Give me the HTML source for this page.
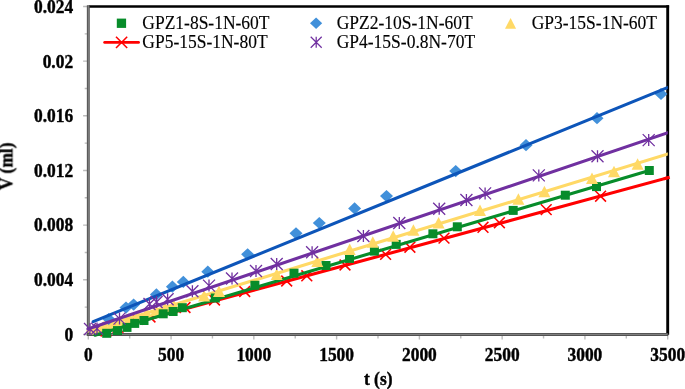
<!DOCTYPE html>
<html><head><meta charset="utf-8"><title>chart</title>
<style>
html,body{margin:0;padding:0;background:#fff;}
body{width:685px;height:389px;overflow:hidden;}
svg{display:block;}
text{font-family:"Liberation Serif",serif;fill:#000;}
.b{font-weight:bold;font-size:17.4px;stroke:#000;stroke-width:0.4px;}
.l{font-size:17.5px;stroke:#000;stroke-width:0.15px;}
</style></head><body>
<svg width="685" height="389" viewBox="0 0 685 389">
<rect width="685" height="389" fill="#fff"/>
<path d="M83.1 334.45H88.3M84.7 307.12H88.3M83.1 279.79H88.3M84.7 252.46H88.3M83.1 225.13H88.3M84.7 197.80H88.3M83.1 170.47H88.3M84.7 143.15H88.3M83.1 115.82H88.3M84.7 88.49H88.3M83.1 61.16H88.3M84.7 33.83H88.3M83.1 6.50H88.3M88.30 334.45V339.6M129.69 334.45V338.4M171.07 334.45V339.6M212.46 334.45V338.4M253.84 334.45V339.6M295.23 334.45V338.4M336.61 334.45V339.6M378.00 334.45V338.4M419.39 334.45V339.6M460.77 334.45V338.4M502.16 334.45V339.6M543.54 334.45V338.4M584.93 334.45V339.6M626.31 334.45V338.4M667.70 334.45V339.6" stroke="#bcbcbc" stroke-width="1.4" fill="none"/>
<path d="M88.89999999999999 6.5H669.1" stroke="#000" stroke-width="2.7" fill="none"/>
<path d="M667.7 5.2V334.84999999999997" stroke="#000" stroke-width="2.9" fill="none"/>
<path d="M88.3 5.2V335.95" stroke="#525252" stroke-width="2.9" fill="none"/>
<path d="M88.3 5.7V334.45" stroke="#909090" stroke-width="0.8" fill="none"/>
<path d="M86.89999999999999 334.45H668.2" stroke="#525252" stroke-width="3.0" fill="none"/>
<path d="M88.3 334.45H667.2" stroke="#909090" stroke-width="0.8" fill="none"/>
<defs><clipPath id="pc"><rect x="80" y="0" width="587.8" height="345"/></clipPath></defs>
<g clip-path="url(#pc)">
<line x1="104" y1="330.9" x2="668" y2="177.73" stroke="#FF0000" stroke-width="3.1" stroke-linecap="round"/>
<path d="M100.6 325.6L111.4 336.4M100.6 336.4L111.4 325.6" stroke="#FF0000" stroke-width="1.55" fill="none"/>
<path d="M112.6 321.9L123.4 332.7M112.6 332.7L123.4 321.9" stroke="#FF0000" stroke-width="1.55" fill="none"/>
<path d="M125.6 315.4L136.4 326.2M125.6 326.2L136.4 315.4" stroke="#FF0000" stroke-width="1.55" fill="none"/>
<path d="M132.1 314.0L142.9 324.8M132.1 324.8L142.9 314.0" stroke="#FF0000" stroke-width="1.55" fill="none"/>
<path d="M144.6 311.6L155.4 322.4M144.6 322.4L155.4 311.6" stroke="#FF0000" stroke-width="1.55" fill="none"/>
<path d="M179.6 302.1L190.4 312.9M179.6 312.9L190.4 302.1" stroke="#FF0000" stroke-width="1.55" fill="none"/>
<path d="M209.1 294.6L219.9 305.4M209.1 305.4L219.9 294.6" stroke="#FF0000" stroke-width="1.55" fill="none"/>
<path d="M239.3 286.1L250.1 296.9M239.3 296.9L250.1 286.1" stroke="#FF0000" stroke-width="1.55" fill="none"/>
<path d="M281.3 275.6L292.1 286.4M281.3 286.4L292.1 275.6" stroke="#FF0000" stroke-width="1.55" fill="none"/>
<path d="M301.4 270.4L312.2 281.2M301.4 281.2L312.2 270.4" stroke="#FF0000" stroke-width="1.55" fill="none"/>
<path d="M339.6 259.6L350.4 270.4M339.6 270.4L350.4 259.6" stroke="#FF0000" stroke-width="1.55" fill="none"/>
<path d="M380.2 249.0L391.0 259.8M380.2 259.8L391.0 249.0" stroke="#FF0000" stroke-width="1.55" fill="none"/>
<path d="M404.5 241.8L415.3 252.6M404.5 252.6L415.3 241.8" stroke="#FF0000" stroke-width="1.55" fill="none"/>
<path d="M438.6 232.7L449.4 243.5M438.6 243.5L449.4 232.7" stroke="#FF0000" stroke-width="1.55" fill="none"/>
<path d="M477.6 221.9L488.4 232.7M477.6 232.7L488.4 221.9" stroke="#FF0000" stroke-width="1.55" fill="none"/>
<path d="M494.0 217.3L504.8 228.1M494.0 228.1L504.8 217.3" stroke="#FF0000" stroke-width="1.55" fill="none"/>
<path d="M540.8 204.2L551.6 215.0M540.8 215.0L551.6 204.2" stroke="#FF0000" stroke-width="1.55" fill="none"/>
<path d="M595.2 190.8L606.0 201.6M595.2 201.6L606.0 190.8" stroke="#FF0000" stroke-width="1.55" fill="none"/>
<line x1="88" y1="331.0" x2="668" y2="153.9" stroke="#FFD966" stroke-width="3.1" stroke-linecap="round"/>
<path d="M96.0 323.1L102.0 334.6L90.0 334.6Z" fill="#FFD966"/>
<path d="M104.0 320.6L110.0 332.1L98.0 332.1Z" fill="#FFD966"/>
<path d="M112.0 318.1L118.0 329.6L106.0 329.6Z" fill="#FFD966"/>
<path d="M120.0 315.7L126.0 327.2L114.0 327.2Z" fill="#FFD966"/>
<path d="M129.0 312.9L135.0 324.4L123.0 324.4Z" fill="#FFD966"/>
<path d="M138.0 310.2L144.0 321.7L132.0 321.7Z" fill="#FFD966"/>
<path d="M147.0 307.4L153.0 318.9L141.0 318.9Z" fill="#FFD966"/>
<path d="M156.0 304.6L162.0 316.1L150.0 316.1Z" fill="#FFD966"/>
<path d="M165.0 301.9L171.0 313.4L159.0 313.4Z" fill="#FFD966"/>
<path d="M173.8 299.4L179.8 310.9L167.8 310.9Z" fill="#FFD966"/>
<line x1="95.0" y1="335.2" x2="649.3" y2="170.5" stroke="#078C2A" stroke-width="3.1" stroke-linecap="round"/>
<rect x="102.2" y="328.8" width="9.0" height="9.0" fill="#078C2A"/>
<rect x="113.0" y="326.1" width="9.0" height="9.0" fill="#078C2A"/>
<rect x="122.5" y="322.9" width="9.0" height="9.0" fill="#078C2A"/>
<rect x="130.2" y="318.9" width="9.0" height="9.0" fill="#078C2A"/>
<rect x="139.5" y="316.0" width="9.0" height="9.0" fill="#078C2A"/>
<rect x="158.7" y="309.3" width="9.0" height="9.0" fill="#078C2A"/>
<rect x="168.6" y="307.0" width="9.0" height="9.0" fill="#078C2A"/>
<rect x="177.8" y="303.2" width="9.0" height="9.0" fill="#078C2A"/>
<rect x="210.8" y="293.5" width="9.0" height="9.0" fill="#078C2A"/>
<rect x="250.4" y="280.8" width="9.0" height="9.0" fill="#078C2A"/>
<rect x="289.5" y="268.7" width="9.0" height="9.0" fill="#078C2A"/>
<rect x="321.5" y="261.0" width="9.0" height="9.0" fill="#078C2A"/>
<rect x="345.0" y="253.9" width="9.0" height="9.0" fill="#078C2A"/>
<rect x="369.9" y="246.6" width="9.0" height="9.0" fill="#078C2A"/>
<rect x="391.7" y="239.9" width="9.0" height="9.0" fill="#078C2A"/>
<rect x="428.4" y="229.3" width="9.0" height="9.0" fill="#078C2A"/>
<rect x="452.8" y="222.3" width="9.0" height="9.0" fill="#078C2A"/>
<rect x="508.7" y="205.9" width="9.0" height="9.0" fill="#078C2A"/>
<rect x="560.8" y="190.7" width="9.0" height="9.0" fill="#078C2A"/>
<rect x="592.0" y="182.1" width="9.0" height="9.0" fill="#078C2A"/>
<rect x="644.8" y="166.0" width="9.0" height="9.0" fill="#078C2A"/>
<path d="M204.1 290.1L210.1 301.6L198.1 301.6Z" fill="#FFD966"/>
<path d="M219.0 285.4L225.0 296.9L213.0 296.9Z" fill="#FFD966"/>
<path d="M276.7 268.4L282.7 279.9L270.7 279.9Z" fill="#FFD966"/>
<path d="M317.3 255.6L323.3 267.1L311.3 267.1Z" fill="#FFD966"/>
<path d="M349.7 243.5L355.7 255.0L343.7 255.0Z" fill="#FFD966"/>
<path d="M372.8 236.3L378.8 247.8L366.8 247.8Z" fill="#FFD966"/>
<path d="M393.2 230.3L399.2 241.8L387.2 241.8Z" fill="#FFD966"/>
<path d="M413.4 224.2L419.4 235.7L407.4 235.7Z" fill="#FFD966"/>
<path d="M438.6 217.0L444.6 228.5L432.6 228.5Z" fill="#FFD966"/>
<path d="M480.0 204.6L486.0 216.1L474.0 216.1Z" fill="#FFD966"/>
<path d="M518.4 193.3L524.4 204.8L512.4 204.8Z" fill="#FFD966"/>
<path d="M544.4 185.8L550.4 197.3L538.4 197.3Z" fill="#FFD966"/>
<path d="M592.0 172.5L598.0 184.0L586.0 184.0Z" fill="#FFD966"/>
<path d="M614.0 165.7L620.0 177.2L608.0 177.2Z" fill="#FFD966"/>
<path d="M637.6 158.2L643.6 169.7L631.6 169.7Z" fill="#FFD966"/>
<path d="M102.2 319.0L108.7 312.9L115.2 319.0L108.7 325.1Z" fill="#4190DA"/>
<path d="M119.5 307.6L126.0 301.5L132.5 307.6L126.0 313.7Z" fill="#4190DA"/>
<path d="M127.1 304.6L133.6 298.5L140.1 304.6L133.6 310.7Z" fill="#4190DA"/>
<path d="M149.9 294.4L156.4 288.3L162.9 294.4L156.4 300.5Z" fill="#4190DA"/>
<path d="M165.9 286.7L172.4 280.6L178.9 286.7L172.4 292.8Z" fill="#4190DA"/>
<path d="M176.8 281.9L183.3 275.8L189.8 281.9L183.3 288.0Z" fill="#4190DA"/>
<path d="M201.3 271.7L207.8 265.6L214.3 271.7L207.8 277.8Z" fill="#4190DA"/>
<path d="M241.1 254.3L247.6 248.2L254.1 254.3L247.6 260.4Z" fill="#4190DA"/>
<path d="M289.5 233.3L296.0 227.2L302.5 233.3L296.0 239.4Z" fill="#4190DA"/>
<path d="M312.8 223.0L319.3 216.9L325.8 223.0L319.3 229.1Z" fill="#4190DA"/>
<path d="M348.1 208.4L354.6 202.3L361.1 208.4L354.6 214.5Z" fill="#4190DA"/>
<path d="M380.0 196.1L386.5 190.0L393.0 196.1L386.5 202.2Z" fill="#4190DA"/>
<path d="M449.2 171.1L455.7 165.0L462.2 171.1L455.7 177.2Z" fill="#4190DA"/>
<path d="M519.5 145.2L526.0 139.1L532.5 145.2L526.0 151.3Z" fill="#4190DA"/>
<path d="M590.5 118.2L597.0 112.1L603.5 118.2L597.0 124.3Z" fill="#4190DA"/>
<path d="M654.5 94.0L661.0 87.9L667.5 94.0L661.0 100.1Z" fill="#4190DA"/>
<line x1="93.2" y1="321.6" x2="668" y2="87.4" stroke="#0D55B9" stroke-width="3.1" stroke-linecap="round"/>
<line x1="88" y1="329.0" x2="668" y2="132.7" stroke="#7030A0" stroke-width="3.1" stroke-linecap="round"/>
<path d="M84.0 323.0L96.0 335.0M84.0 335.0L96.0 323.0M90.0 323.0L90.0 335.0" stroke="#7030A0" stroke-width="1.3" fill="none"/>
<path d="M91.0 322.6L103.0 334.6M91.0 334.6L103.0 322.6M97.0 322.6L97.0 334.6" stroke="#7030A0" stroke-width="1.3" fill="none"/>
<path d="M113.5 312.6L125.5 324.6M113.5 324.6L125.5 312.6M119.5 312.6L119.5 324.6" stroke="#7030A0" stroke-width="1.3" fill="none"/>
<path d="M143.5 298.0L155.5 310.0M143.5 310.0L155.5 298.0M149.5 298.0L149.5 310.0" stroke="#7030A0" stroke-width="1.3" fill="none"/>
<path d="M150.6 296.0L162.6 308.0M150.6 308.0L162.6 296.0M156.6 296.0L156.6 308.0" stroke="#7030A0" stroke-width="1.3" fill="none"/>
<path d="M161.6 293.2L173.6 305.2M161.6 305.2L173.6 293.2M167.6 293.2L167.6 305.2" stroke="#7030A0" stroke-width="1.3" fill="none"/>
<path d="M186.4 285.2L198.4 297.2M186.4 297.2L198.4 285.2M192.4 285.2L192.4 297.2" stroke="#7030A0" stroke-width="1.3" fill="none"/>
<path d="M203.0 279.6L215.0 291.6M203.0 291.6L215.0 279.6M209.0 279.6L209.0 291.6" stroke="#7030A0" stroke-width="1.3" fill="none"/>
<path d="M226.0 272.5L238.0 284.5M226.0 284.5L238.0 272.5M232.0 272.5L232.0 284.5" stroke="#7030A0" stroke-width="1.3" fill="none"/>
<path d="M250.0 265.0L262.0 277.0M250.0 277.0L262.0 265.0M256.0 265.0L256.0 277.0" stroke="#7030A0" stroke-width="1.3" fill="none"/>
<path d="M270.7 258.0L282.7 270.0M270.7 270.0L282.7 258.0M276.7 258.0L276.7 270.0" stroke="#7030A0" stroke-width="1.3" fill="none"/>
<path d="M306.1 246.2L318.1 258.2M306.1 258.2L318.1 246.2M312.1 246.2L312.1 258.2" stroke="#7030A0" stroke-width="1.3" fill="none"/>
<path d="M357.4 230.0L369.4 242.0M357.4 242.0L369.4 230.0M363.4 230.0L363.4 242.0" stroke="#7030A0" stroke-width="1.3" fill="none"/>
<path d="M393.3 217.0L405.3 229.0M393.3 229.0L405.3 217.0M399.3 217.0L399.3 229.0" stroke="#7030A0" stroke-width="1.3" fill="none"/>
<path d="M433.2 202.8L445.2 214.8M433.2 214.8L445.2 202.8M439.2 202.8L439.2 214.8" stroke="#7030A0" stroke-width="1.3" fill="none"/>
<path d="M460.4 194.0L472.4 206.0M460.4 206.0L472.4 194.0M466.4 194.0L466.4 206.0" stroke="#7030A0" stroke-width="1.3" fill="none"/>
<path d="M479.1 187.4L491.1 199.4M479.1 199.4L491.1 187.4M485.1 187.4L485.1 199.4" stroke="#7030A0" stroke-width="1.3" fill="none"/>
<path d="M532.8 169.4L544.8 181.4M532.8 181.4L544.8 169.4M538.8 169.4L538.8 181.4" stroke="#7030A0" stroke-width="1.3" fill="none"/>
<path d="M591.5 150.3L603.5 162.3M591.5 162.3L603.5 150.3M597.5 150.3L597.5 162.3" stroke="#7030A0" stroke-width="1.3" fill="none"/>
<path d="M642.7 134.1L654.7 146.1M642.7 146.1L654.7 134.1M648.7 134.1L648.7 146.1" stroke="#7030A0" stroke-width="1.3" fill="none"/>
</g>
<path d="M664 178.82L669.7 177.27" stroke="#FF0000" stroke-width="3.1" fill="none"/>
<g style="opacity:0.999">
<text class="b" transform="translate(73.1 340.8) scale(1 1.06)" text-anchor="end">0</text>
<text class="b" transform="translate(73.1 286.1) scale(1 1.06)" text-anchor="end">0.004</text>
<text class="b" transform="translate(73.1 231.4) scale(1 1.06)" text-anchor="end">0.008</text>
<text class="b" transform="translate(73.1 176.8) scale(1 1.06)" text-anchor="end">0.012</text>
<text class="b" transform="translate(73.1 122.1) scale(1 1.06)" text-anchor="end">0.016</text>
<text class="b" transform="translate(73.1 67.5) scale(1 1.06)" text-anchor="end">0.02</text>
<text class="b" transform="translate(73.1 12.8) scale(1 1.06)" text-anchor="end">0.024</text>
<text class="b" transform="translate(88.3 361.1) scale(1 1.06)" text-anchor="middle">0</text>
<text class="b" transform="translate(171.1 361.1) scale(1 1.06)" text-anchor="middle">500</text>
<text class="b" transform="translate(253.8 361.1) scale(1 1.06)" text-anchor="middle">1000</text>
<text class="b" transform="translate(336.6 361.1) scale(1 1.06)" text-anchor="middle">1500</text>
<text class="b" transform="translate(419.4 361.1) scale(1 1.06)" text-anchor="middle">2000</text>
<text class="b" transform="translate(502.2 361.1) scale(1 1.06)" text-anchor="middle">2500</text>
<text class="b" transform="translate(584.9 361.1) scale(1 1.06)" text-anchor="middle">3000</text>
<text class="b" transform="translate(667.7 361.1) scale(1 1.06)" text-anchor="middle">3500</text>
<text class="b" transform="translate(378.2 384.9) scale(1 1.06)" text-anchor="middle">t (s)</text>
<text class="b" transform="translate(12.4 166.3) rotate(-90) scale(1 1.06)" text-anchor="middle">V (ml)</text>
<rect x="116.8" y="18.6" width="9.3" height="9.3" fill="#078C2A"/>
<text class="l" transform="translate(142.3 29.2) scale(1 1.06)" text-anchor="start">GPZ1-8S-1N-60T</text>
<line x1="104.7" y1="42.4" x2="138.5" y2="42.4" stroke="#FF0000" stroke-width="2.9" stroke-linecap="round"/>
<path d="M116.0 36.8L127.2 48.0M116.0 48.0L127.2 36.8" stroke="#FF0000" stroke-width="1.55" fill="none"/>
<text class="l" transform="translate(142.3 48.4) scale(1 1.06)" text-anchor="start">GP5-15S-1N-80T</text>
<path d="M310.0 23.3L316.1 17.6L322.2 23.3L316.1 29.0Z" fill="#4190DA"/>
<text class="l" transform="translate(336.7 29.2) scale(1 1.06)" text-anchor="start">GPZ2-10S-1N-60T</text>
<path d="M310.7 36.8L321.7 47.8M310.7 47.8L321.7 36.8M316.2 36.8L316.2 47.8" stroke="#7030A0" stroke-width="1.25" fill="none"/>
<text class="l" transform="translate(336.7 48.4) scale(1 1.06)" text-anchor="start">GP4-15S-0.8N-70T</text>
<path d="M510.6 18L516.1 28.8L505 28.8Z" fill="#FFD966"/>
<text class="l" transform="translate(531.7 29.2) scale(1 1.06)" text-anchor="start">GP3-15S-1N-60T</text>
</g>
</svg></body></html>
